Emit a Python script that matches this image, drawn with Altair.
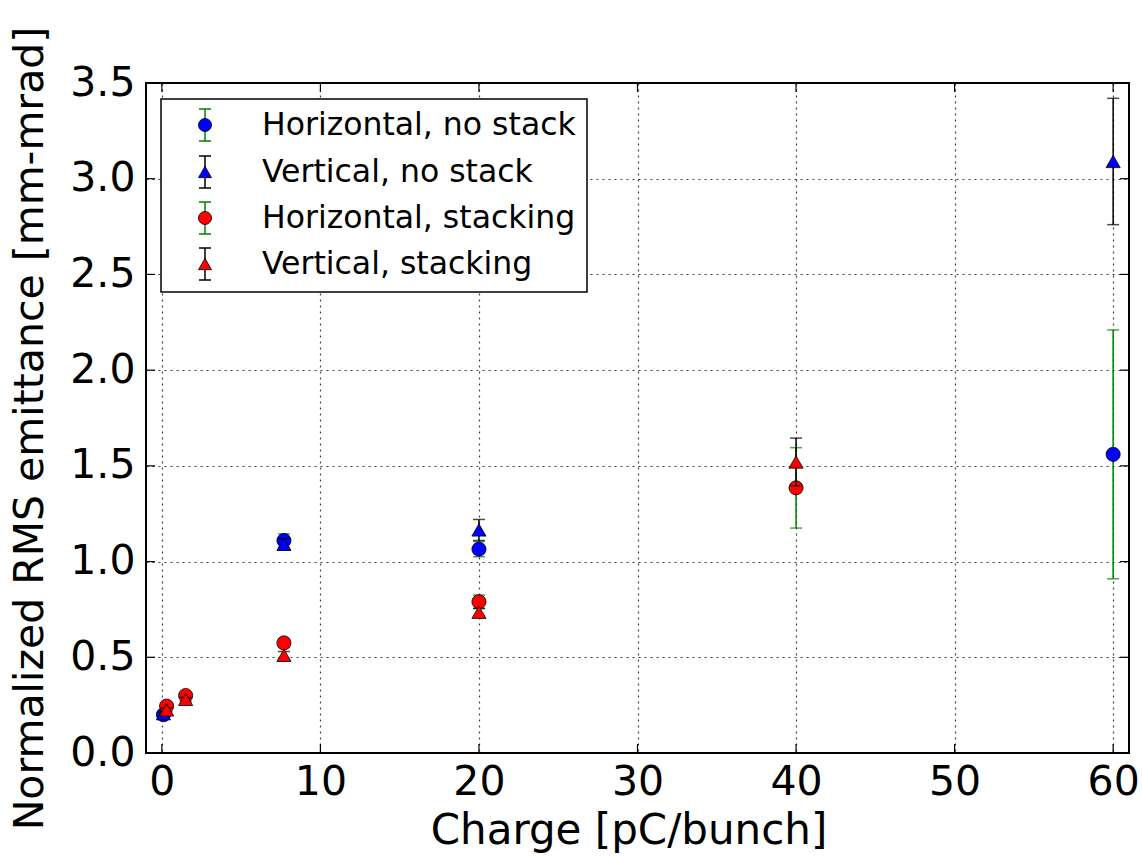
import altair as alt
import pandas as pd

# Bunch charge [pC/bunch] for the two measurement sets
charge_nostack = [0.1, 7.7, 20.0, 60.0]
charge_stack = [0.3, 1.5, 7.7, 20.0, 40.0]

# Normalized RMS emittance [mm-mrad] and its uncertainty
h_nostack = [0.20, 1.11, 1.065, 1.56]
h_nostack_err = [0.01, 0.035, 0.04, 0.65]
v_nostack = [0.205, 1.09, 1.165, 3.09]
v_nostack_err = [0.01, 0.03, 0.055, 0.33]

h_stack = [0.245, 0.30, 0.575, 0.79, 1.385]
h_stack_err = [0.01, 0.01, 0.02, 0.035, 0.21]
v_stack = [0.225, 0.28, 0.51, 0.735, 1.52]
v_stack_err = [0.01, 0.01, 0.02, 0.02, 0.125]

series_names = ["Horizontal, no stack", "Vertical, no stack",
                "Horizontal, stacking", "Vertical, stacking"]
marker_shapes = ["circle", "triangle-up", "circle", "triangle-up"]
marker_colors = ["#0000ff", "#0000ff", "#ff0000", "#ff0000"]
errbar_colors = ["#008000", "#000000", "#008000", "#000000"]

x_ticks = [0, 10, 20, 30, 40, 50, 60]
y_ticks = [0.0, 0.5, 1.0, 1.5, 2.0, 2.5, 3.0, 3.5]

FONT = "DejaVu Sans"
W, H = 983, 670

xs = alt.Scale(domain=[-1, 61], nice=False, zero=False)
ys = alt.Scale(domain=[0, 3.5], nice=False, zero=False)

x_axis = alt.Axis(
    values=x_ticks, format="d", title="Charge [pC/bunch]",
    grid=True, gridColor="black", gridDash=[2, 4], gridWidth=1.2, gridOpacity=0.75,
    ticks=False, domain=False, labelFlush=False, labelOverlap=False,
    labelFont=FONT, labelFontSize=41, labelColor="black", labelPadding=9,
    titleFont=FONT, titleFontSize=42, titleFontWeight="normal", titleColor="black",
    titleX=W / 2 - 9, titleY=90, titleAlign="center", titleBaseline="alphabetic",
)
y_axis = alt.Axis(
    values=y_ticks, format=".1f", title="Normalized RMS emittance [mm-mrad]",
    grid=True, gridColor="black", gridDash=[2, 4], gridWidth=1.2, gridOpacity=0.75,
    ticks=False, domain=False, labelFlush=False, labelOverlap=False,
    labelFont=FONT, labelFontSize=41, labelColor="black", labelPadding=11,
    titleFont=FONT, titleFontSize=41, titleFontWeight="normal", titleColor="black",
    titleAngle=270, titleX=-104, titleY=H / 2 + 10, titleAlign="center",
    titleBaseline="alphabetic",
)


def X(field):
    return alt.X(field, type="quantitative", scale=xs, axis=x_axis)


def Y(field):
    return alt.Y(field, type="quantitative", scale=ys, axis=y_axis)


xt_df = pd.DataFrame({"xt": x_ticks})
yt_df = pd.DataFrame({"yt": y_ticks})

layers = []

# inward tick marks on all four sides of the frame
layers.append(alt.Chart(xt_df).mark_rule(color="black", strokeWidth=1.2).encode(
    x=X("xt"), y=alt.value(H), y2=alt.value(H - 9)))
layers.append(alt.Chart(xt_df).mark_rule(color="black", strokeWidth=1.2).encode(
    x=X("xt"), y=alt.value(0), y2=alt.value(9)))
layers.append(alt.Chart(yt_df).mark_rule(color="black", strokeWidth=1.2).encode(
    y=Y("yt"), x=alt.value(0), x2=alt.value(9)))
layers.append(alt.Chart(yt_df).mark_rule(color="black", strokeWidth=1.2).encode(
    y=Y("yt"), x=alt.value(W), x2=alt.value(W - 9)))

series = [
    (charge_nostack, h_nostack, h_nostack_err),
    (charge_nostack, v_nostack, v_nostack_err),
    (charge_stack, h_stack, h_stack_err),
    (charge_stack, v_stack, v_stack_err),
]

# error bars with caps, then the markers, one series after another
for i, (cx, vals, errs) in enumerate(series):
    df = pd.DataFrame({
        "q": cx,
        "e": vals,
        "lo": [v - d for v, d in zip(vals, errs)],
        "hi": [v + d for v, d in zip(vals, errs)],
    })
    base = alt.Chart(df)
    ec = errbar_colors[i]
    layers.append(base.mark_rule(color=ec, strokeWidth=1.5).encode(
        x=X("q"), y=Y("lo"), y2="hi"))
    layers.append(base.mark_tick(orient="horizontal", size=12, thickness=1.5,
                                 color=ec).encode(x=X("q"), y=Y("lo")))
    layers.append(base.mark_tick(orient="horizontal", size=12, thickness=1.5,
                                 color=ec).encode(x=X("q"), y=Y("hi")))
    layers.append(base.mark_point(
        shape=marker_shapes[i], filled=True, fill=marker_colors[i],
        stroke="black", strokeWidth=0.8, size=200, opacity=1,
    ).encode(x=X("q"), y=Y("e")))

# Legend box with error-bar symbols
one = pd.DataFrame({"k": [0]})
layers.append(alt.Chart(one).mark_rect(
    fill="white", stroke="black", strokeWidth=1.5).encode(
    x=alt.value(15), x2=alt.value(441), y=alt.value(16), y2=alt.value(209)))

legend_rows = [42, 89, 135, 181]
for i, ly in enumerate(legend_rows):
    ec = errbar_colors[i]
    lc = alt.Chart(one)
    layers.append(lc.mark_rule(color=ec, strokeWidth=1.5).encode(
        x=alt.value(59), y=alt.value(ly - 16), y2=alt.value(ly + 16)))
    for cy in (ly - 16, ly + 16):
        layers.append(lc.mark_rule(color=ec, strokeWidth=1.5).encode(
            x=alt.value(53), x2=alt.value(65), y=alt.value(cy)))
    layers.append(lc.mark_point(
        shape=marker_shapes[i], filled=True, fill=marker_colors[i],
        stroke="black", strokeWidth=0.8, size=170, opacity=1,
    ).encode(x=alt.value(59), y=alt.value(ly)))
    layers.append(lc.mark_text(
        align="left", baseline="middle", font=FONT, fontSize=31.5, color="black",
    ).encode(x=alt.value(116), y=alt.value(ly + 1), text=alt.value(series_names[i])))

chart = alt.layer(*layers).properties(
    width=W, height=H,
    autosize=alt.AutoSizeParams(type="none"),
    padding={"left": 146, "top": 83, "right": 13, "bottom": 103},
    background="white",
).configure_view(stroke="black", strokeWidth=2)

chart.save("out.html", embed_options={"renderer": "svg", "actions": False})
